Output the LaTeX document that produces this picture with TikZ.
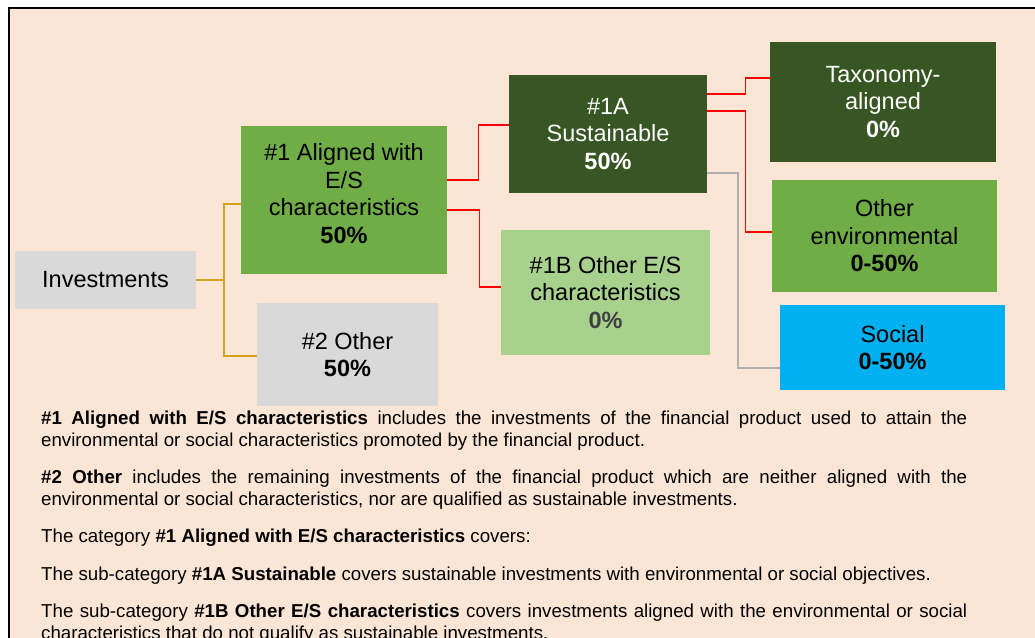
\documentclass[tikz,border=0pt]{standalone}
\usepackage{fontspec}
\setmainfont{Liberation Sans}
\usepackage{xcolor}
\usepackage{tikz}
\usetikzlibrary{positioning}
\definecolor{colbg}{HTML}{FBE6D6}
\definecolor{colgrey}{HTML}{D9D9D9}
\definecolor{colmid}{HTML}{70AD47}
\definecolor{coldark}{HTML}{375623}
\definecolor{collight}{HTML}{A9D18E}
\definecolor{colsoc}{HTML}{00B0F0}
\definecolor{colgold}{HTML}{D8A31C}
\definecolor{colred}{HTML}{FF0000}
\definecolor{colline}{HTML}{AFAFAF}
\definecolor{colpct}{HTML}{404040}
\newcommand{\boxfont}{\fontsize{23.5}{27.5}\selectfont}
\newcommand{\notefont}{\fontsize{18.7}{21.5}\selectfont}

\begin{document}
\begin{tikzpicture}[x=1pt, y=-1pt,
  box/.style={inner sep=0pt, align=center, font=\boxfont},
  goldline/.style={draw=colgold, line width=1.6pt},
  redline/.style={draw=colred, line width=1.3pt},
  greyline/.style={draw=colline, line width=1.5pt}
]
  \useasboundingbox (0,0) rectangle (1035,637);
  \draw[line width=2.6pt, fill=colbg] (9,8) rectangle (1050,660);

  \node[box, fill=colgrey, minimum width=181pt, minimum height=58pt] (inv) at (105.5,280) {Investments};
  \node[box, fill=colmid, minimum width=206pt, minimum height=148pt] (align) at (344,200)
    {\#1 Aligned with\\E/S\\characteristics\\\textbf{50\%}\\[-14pt]};
  \node[box, fill=colgrey, minimum width=181pt, minimum height=103pt] (other) at (347.5,354.5)
    {\#2 Other\\\textbf{50\%}};
  \node[box, fill=coldark, text=white, minimum width=198pt, minimum height=118pt] (sust) at (608,134)
    {\#1A\\Sustainable\\\textbf{50\%}};
  \node[box, fill=collight, minimum width=209pt, minimum height=125pt] (oes) at (605.5,292.5)
    {\#1B Other E/S\\characteristics\\\textcolor{colpct}{\textbf{0\%}}};
  \node[box, fill=coldark, text=white, minimum width=226pt, minimum height=120pt] (taxo) at (883,102)
    {Taxonomy-\\aligned\\\textbf{0\%}};
  \node[box, fill=colmid, minimum width=225pt, minimum height=112pt] (envi) at (884.5,236)
    {Other\\environmental\\\textbf{0-50\%}};
  \node[box, fill=colsoc, minimum width=225pt, minimum height=85pt] (soc) at (892.5,347.5)
    {Social\\\textbf{0-50\%}};

  \draw[goldline] (inv.east) -- ++(28,0) |- ([yshift=-4pt]align.west);
  \draw[goldline] (inv.east) -- ++(28,0) |- ([yshift=-1.5pt]other.west);
  \draw[redline] ([yshift=20pt]align.east) -- ++(31,0) |- ([yshift=9pt]sust.west);
  \draw[redline] ([yshift=-10pt]align.east) -- ++(32,0) |- ([yshift=5.5pt]oes.west);
  \draw[redline] ([yshift=40pt]sust.east) -- ++(38,0) |- ([yshift=24pt]taxo.west);
  \draw[redline] ([yshift=23pt]sust.east) -- ++(38,0) |- ([yshift=4pt]envi.west);
  \draw[greyline] ([yshift=-39pt]sust.east) -- ++(31,0) |- ([yshift=-20.5pt]soc.west);

  \node[anchor=north west, inner sep=0pt, text width=926pt, align=justify, font=\notefont] (notes) at (41,411)
  {\hyphenpenalty=10000\exhyphenpenalty=10000\parskip=16pt
   \textbf{\#1 Aligned with E/S characteristics} includes the investments of the financial product used to attain the\linebreak
   environmental or social characteristics promoted by the financial product.\par
   \textbf{\#2 Other} includes the remaining investments of the financial product which are neither aligned with the\linebreak
   environmental or social characteristics, nor are qualified as sustainable investments.\par
   The category \textbf{\#1 Aligned with E/S characteristics} covers:\par
   The sub-category \textbf{\#1A Sustainable} covers sustainable investments with environmental or social objectives.\par
   The sub-category \textbf{\#1B Other E/S characteristics} covers investments aligned with the environmental or social\linebreak
   characteristics that do not qualify as sustainable investments.\par};
\end{tikzpicture}
\end{document}
